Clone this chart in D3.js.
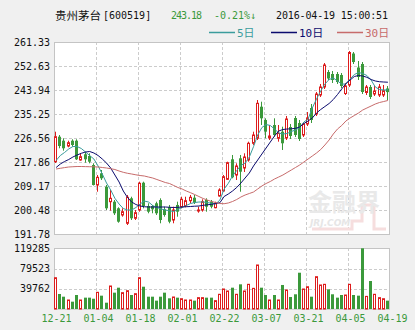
<!DOCTYPE html>
<html>
<head>
<meta charset="utf-8">
<script src="https://cdn.jsdelivr.net/npm/d3@7"></script>
<style>
body { margin: 0; background: #f0f0f0; }
svg text { font-family: "DejaVu Sans Mono", monospace; }
</style>
</head>
<body>
<div id="chart"></div>
<script>
//trading days shown on the chart
const dates = ['12-21','12-22','12-23','12-24','12-25','12-28','12-29','12-30','12-31',
    '01-04','01-05','01-06','01-07','01-08','01-11','01-12','01-13','01-14','01-15','01-18',
    '01-19','01-20','01-21','01-22','01-25','01-26','01-27','01-28','01-29',
    '02-01','02-02','02-03','02-04','02-05','02-15','02-16','02-17','02-18','02-19',
    '02-22','02-23','02-24','02-25','02-26','02-29',
    '03-01','03-02','03-03','03-04','03-07','03-08','03-09','03-10','03-11','03-14','03-15',
    '03-16','03-17','03-18','03-21','03-22','03-23','03-24','03-25','03-28','03-29','03-30','03-31',
    '04-01','04-05','04-06','04-07','04-08','04-11','04-12','04-13','04-14','04-15','04-18','04-19'];

const tickLabels = ['12-21','01-04','01-18','02-01','02-22','03-07','03-21','04-05','04-19'];
const priceTicks = ['261.33','252.63','243.94','235.25','226.56','217.86','209.17','200.48','191.78'];
const volTicks = ['119285','79523','39762'];

const opens = [217.97,227.03,225.58,223.66,225.58,225.58,218.59,220.65,220.04,216.78,
    209.53,213.77,208.91,203.48,203.48,201.09,198.66,195.66,204.71,197.47,
    200.47,210.36,201.92,201.92,202.90,204.10,200.73,201.45,196.85,202.29,
    201.67,201.92,203.84,204.93,200.11,200.47,204.10,203.48,201.31,205.55,
    207.36,211.60,218.84,213.15,219.20,215.69,218.59,224.64,226.45,237.89,
    233.08,226.56,231.26,226.45,228.84,226.56,230.54,233.80,231.99,227.64,
    231.63,237.42,235.25,242.13,245.03,250.46,249.74,249.74,249.38,242.67,
    245.75,257.16,252.09,253.36,243.04,245.03,242.49,242.13,242.13,244.49];

const closes = [227.03,223.66,222.83,224.85,224.02,218.84,219.78,218.84,217.97,209.53,
    212.32,211.96,201.09,204.71,199.28,196.24,199.86,205.07,197.47,199.50,
    210.15,201.92,199.86,200.73,199.28,196.85,198.66,196.24,200.47,199.86,
    204.35,203.84,205.07,203.12,200.47,203.48,201.67,201.67,202.90,207.72,
    212.54,217.61,212.32,216.41,214.35,219.67,224.64,227.64,239.12,233.69,
    228.84,227.28,227.64,228.26,224.64,233.44,227.28,227.64,226.19,231.63,
    233.80,233.08,242.49,245.03,253.00,248.11,247.56,246.84,245.39,245.39,
    257.52,254.08,248.65,243.22,245.03,241.41,243.58,245.03,243.69,243.18];

const highs = [228.84,227.64,226.45,225.58,226.09,226.09,221.01,221.59,221.01,217.39,
    213.15,214.96,209.53,207.72,204.10,201.45,201.09,205.91,205.29,200.47,
    210.73,210.73,202.90,202.29,203.48,204.71,201.67,202.29,201.67,203.48,
    205.29,205.29,205.91,205.91,201.67,204.35,204.71,204.10,203.48,208.34,
    213.15,217.97,220.40,217.39,220.40,221.01,225.22,228.84,240.32,239.70,
    233.69,231.26,233.69,231.26,230.65,234.52,231.63,234.52,233.08,232.35,
    235.97,238.87,243.22,246.12,253.72,251.19,250.82,250.46,250.10,246.48,
    258.07,257.71,254.45,254.08,245.75,245.75,245.39,246.12,245.75,245.39];

const lows = [217.50,222.83,221.96,223.19,223.40,218.59,218.33,217.61,217.39,209.35,
    207.10,211.34,200.47,200.22,198.66,195.87,198.05,195.04,196.85,196.85,
    199.86,201.09,199.28,199.28,198.66,195.66,198.05,195.66,195.66,198.05,
    201.09,201.45,202.90,202.65,199.50,199.86,199.86,201.09,201.09,205.29,
    207.10,211.34,211.96,211.34,207.10,214.24,217.97,224.02,225.83,231.26,
    226.45,225.83,227.03,225.22,222.21,225.83,226.19,226.92,225.47,226.92,
    230.90,231.99,234.52,241.41,244.30,247.56,246.48,246.12,244.67,242.13,
    245.03,253.36,247.56,242.49,242.13,240.68,241.77,241.41,241.41,240.32];

const volumes = [61500,29500,24200,17700,14400,27500,17700,22300,22300,20200,
    32800,26200,12400,45200,32100,41900,32100,36000,27500,30100,
    61500,43800,24200,24200,16400,24200,32100,21000,23600,22300,
    20200,17700,17700,16400,22300,22300,22300,22300,16400,28900,
    39300,35400,41900,28900,48500,35400,48500,40600,86500,41900,
    27500,17700,27500,17700,47200,37300,23600,28900,71300,39300,
    43800,24200,63500,47200,48500,38700,28900,22300,27500,27500,
    48500,27500,26200,119285,24800,55000,28900,22300,20200,16400];

const ma5 = [218.40,220.21,221.30,222.57,223.47,223.47,222.75,221.48,220.21,218.94,
    216.41,213.51,210.25,207.71,204.71,202.64,201.01,200.47,200.47,201.38,
    202.64,203.73,203.37,202.10,201.38,200.83,200.47,200.18,199.93,200.65,
    201.38,202.10,202.82,203.19,203.37,203.37,203.19,202.90,202.64,204.09,
    208.08,210.14,212.79,214.78,216.59,217.49,219.67,223.40,227.64,230.35,
    231.44,231.08,229.81,228.36,228.00,228.18,228.91,229.45,230.35,232.35,
    233.43,237.42,240.68,243.58,246.11,247.74,248.29,247.20,246.11,246.11,
    247.92,249.55,250.28,249.92,249.19,247.56,245.03,244.12,243.94,244.01];

const ma10 = [215.86,217.13,218.04,218.76,219.67,220.39,221.01,221.48,221.66,221.12,
    220.21,218.94,217.49,215.68,213.15,210.61,207.35,205.00,203.37,202.46,
    201.92,201.66,201.56,201.56,201.56,201.56,201.56,201.45,201.38,201.45,
    201.56,201.66,201.74,201.85,201.92,202.17,202.35,202.53,202.82,203.11,
    205.36,206.27,207.35,208.62,210.25,212.06,213.87,216.41,218.58,220.76,
    222.93,225.10,227.28,229.09,229.63,229.81,229.88,230.06,230.54,231.80,
    232.71,233.80,235.61,236.87,237.96,239.05,240.50,242.31,244.30,246.29,
    247.56,248.83,249.19,249.01,248.54,247.74,247.20,246.94,246.84,246.76];

const ma30 = [215.32,215.58,215.83,216.05,216.15,216.23,216.23,216.19,216.15,216.12,
    216.05,215.87,215.69,215.43,215.14,214.60,214.13,213.77,213.51,213.22,
    212.97,212.79,212.42,212.06,211.52,210.98,210.43,210.07,209.35,208.62,
    208.08,207.35,206.74,206.08,205.36,204.64,204.09,203.55,203.19,202.82,
    202.75,203.01,203.55,204.27,205.18,205.90,206.45,206.99,208.08,209.17,
    210.07,210.80,211.70,212.42,213.15,214.06,214.96,215.87,216.77,217.86,
    218.94,220.03,221.12,222.38,224.02,225.83,228.00,229.81,231.08,232.71,
    233.80,234.70,235.61,236.69,237.42,238.14,238.87,239.41,239.77,240.14];

const red = '#dd1c1c';
const green = '#3b993b';
const maColors = ['#3a9c9c', '#0b0b6e', '#c76b6b'];

const width = 415;
const height = 330;
const left = 54, right = 390;
const mainTop = 42, mainBottom = 234;
const volTop = 248.3, volBottom = 309;

const svg = d3.select('#chart')
    .append('svg')
    .attr('width', width)
    .attr('height', height);

svg.append('rect').attr('width', width).attr('height', height).attr('fill', '#f0f0f0');

//scales
const x = d3.scaleBand().domain(dates).range([left, right]).paddingInner(0.28).paddingOuter(0.14);
const y = d3.scaleLinear().domain([191.78, 261.33]).range([mainBottom, mainTop]);
const yv = d3.scaleLinear().domain([0, 119285]).range([volBottom, volTop]);
const xg = d3.scalePoint().domain(tickLabels).range([left, right]);
const cx = d => Math.round(x(d) + x.bandwidth() / 2) - 0.5;

//white plot areas
svg.append('rect').attr('x', left).attr('y', mainTop).attr('width', right - left).attr('height', mainBottom - mainTop).attr('fill', '#fff');
svg.append('rect').attr('x', left).attr('y', volTop).attr('width', right - left).attr('height', volBottom - volTop).attr('fill', '#fff');

//dashed grid lines
const grid = svg.append('g')
    .attr('stroke', '#cccccc')
    .attr('stroke-dasharray', '3,2')
    .attr('shape-rendering', 'crispEdges');

grid.selectAll('.hg')
    .data(priceTicks.slice(1, -1))
    .enter()
    .append('line')
    .attr('x1', left).attr('x2', right)
    .attr('y1', d => Math.round(y(+d)) + 0.5)
    .attr('y2', d => Math.round(y(+d)) + 0.5);

grid.selectAll('.hv')
    .data(volTicks.slice(1))
    .enter()
    .append('line')
    .attr('x1', left).attr('x2', right)
    .attr('y1', d => Math.round(yv(+d)) + 0.5)
    .attr('y2', d => Math.round(yv(+d)) + 0.5);

grid.selectAll('.vg')
    .data(tickLabels.slice(1, -1))
    .enter()
    .append('path')
    .attr('d', d => {
        const gx = Math.round(xg(d)) + 0.5;
        return `M${gx},${mainTop}V${mainBottom}M${gx},${volTop}V${volBottom}`;
    });

//watermark
const wm = svg.append('g');
wm.append('path')
    .attr('d', 'M312,229H352V221H362V205H374V229H386')
    .attr('fill', 'none')
    .attr('stroke', '#f6dede')
    .attr('stroke-width', 3);
wm.append('text').text('金融界')
    .attr('x', 308).attr('y', 211)
    .attr('font-size', 24).attr('font-weight', 'bold')
    .style('font-family', '"Noto Sans CJK SC"')
    .attr('fill', '#e9e9e9');
wm.append('text').text('JRJ.COM')
    .attr('x', 310).attr('y', 226)
    .attr('font-size', 9).attr('font-weight', 'bold').attr('font-style', 'italic')
    .style('font-family', '"DejaVu Sans"')
    .attr('fill', '#e6e6e6');

//frames
svg.append('rect').attr('x', left + 0.5).attr('y', mainTop + 0.5).attr('width', right - left - 1).attr('height', mainBottom - mainTop)
    .attr('fill', 'none').attr('stroke', '#c4c4c4');
svg.append('rect').attr('x', left + 0.5).attr('y', Math.round(volTop) + 0.5).attr('width', right - left - 1).attr('height', volBottom - volTop)
    .attr('fill', 'none').attr('stroke', '#c4c4c4');

//candles
const candles = svg.selectAll('.candle')
    .data(dates)
    .enter()
    .append('g');

candles.append('line')
    .attr('x1', d => cx(d)).attr('x2', d => cx(d))
    .attr('y1', (d, i) => y(highs[i]))
    .attr('y2', (d, i) => y(lows[i]))
    .attr('stroke', (d, i) => closes[i] >= opens[i] ? red : green);

candles.append('rect')
    .attr('x', (d, i) => closes[i] >= opens[i] ? cx(d) - 1 : cx(d) - 1.5)
    .attr('width', (d, i) => closes[i] >= opens[i] ? 2 : 3)
    .attr('y', (d, i) => y(Math.max(opens[i], closes[i])))
    .attr('height', (d, i) => Math.max(1, Math.abs(y(opens[i]) - y(closes[i]))))
    .attr('fill', (d, i) => closes[i] >= opens[i] ? '#fff' : green)
    .attr('stroke', (d, i) => closes[i] >= opens[i] ? red : 'none');

//moving averages
[ma5, ma10, ma30].forEach((ma, k) => {
    const line = d3.line()
        .x((v, i) => x(dates[i]) + x.bandwidth() / 2)
        .y(v => y(v));
    svg.append('path')
        .datum(ma)
        .attr('d', line)
        .attr('fill', 'none')
        .attr('stroke', maColors[k])
        .attr('stroke-width', 1);
});

//volume bars
svg.selectAll('.vol')
    .data(dates)
    .enter()
    .append('rect')
    .attr('x', (d, i) => closes[i] >= opens[i] ? cx(d) - 1 : cx(d) - 1.5)
    .attr('width', (d, i) => closes[i] >= opens[i] ? 2 : 3)
    .attr('y', (d, i) => yv(volumes[i]))
    .attr('height', (d, i) => volBottom - yv(volumes[i]))
    .attr('fill', (d, i) => closes[i] >= opens[i] ? '#fff' : green)
    .attr('stroke', (d, i) => closes[i] >= opens[i] ? red : 'none');

//axis labels
svg.selectAll('.ylab')
    .data(priceTicks)
    .enter()
    .append('text')
    .text(d => d)
    .attr('x', 50)
    .attr('y', d => y(+d))
    .attr('dy', '0.36em')
    .attr('text-anchor', 'end')
    .attr('font-size', 10)
    .attr('fill', '#111');

svg.selectAll('.vlab')
    .data(volTicks)
    .enter()
    .append('text')
    .text(d => d)
    .attr('x', 50)
    .attr('y', d => yv(+d))
    .attr('dy', '0.36em')
    .attr('text-anchor', 'end')
    .attr('font-size', 10)
    .attr('fill', '#111');

svg.selectAll('.xlab')
    .data(tickLabels)
    .enter()
    .append('text')
    .text(d => d)
    .attr('x', d => xg(d) + 2.5)
    .attr('y', 322)
    .attr('text-anchor', 'middle')
    .attr('font-size', 10)
    .attr('fill', green);

//header
svg.append('text').text('贵州茅台')
    .attr('x', 55).attr('y', 20)
    .attr('font-size', 11.5)
    .style('font-family', '"Noto Sans CJK SC"')
    .attr('fill', '#111');
svg.append('text').text('[600519]')
    .attr('x', 103).attr('y', 19)
    .attr('font-size', 10)
    .attr('fill', '#111');
svg.append('text').text('243.18')
    .attr('x', 171).attr('y', 19)
    .attr('font-size', 10)
    .attr('textLength', 31)
    .attr('fill', green);
svg.append('text').text('-0.21%↓')
    .attr('x', 214).attr('y', 19)
    .attr('font-size', 10)
    .attr('textLength', 42)
    .attr('fill', green);
svg.append('text').text('2016-04-19 15:00:51')
    .attr('x', 276).attr('y', 19)
    .attr('font-size', 10)
    .attr('textLength', 112)
    .attr('fill', '#111');

//legend
const legend = [
    {name: '5日', x0: 209},
    {name: '10日', x0: 271},
    {name: '30日', x0: 337}
];
legend.forEach((d, k) => {
    svg.append('line')
        .attr('x1', d.x0).attr('x2', d.x0 + 26)
        .attr('y1', 32.5).attr('y2', 32.5)
        .attr('stroke', maColors[k])
        .attr('stroke-width', 1.5);
    svg.append('text').text(d.name)
        .attr('x', d.x0 + 28).attr('y', 37)
        .attr('font-size', 11)
        .style('font-family', '"DejaVu Sans Mono","Noto Sans CJK SC"')
        .attr('fill', maColors[k]);
});
</script>
</body>
</html>
